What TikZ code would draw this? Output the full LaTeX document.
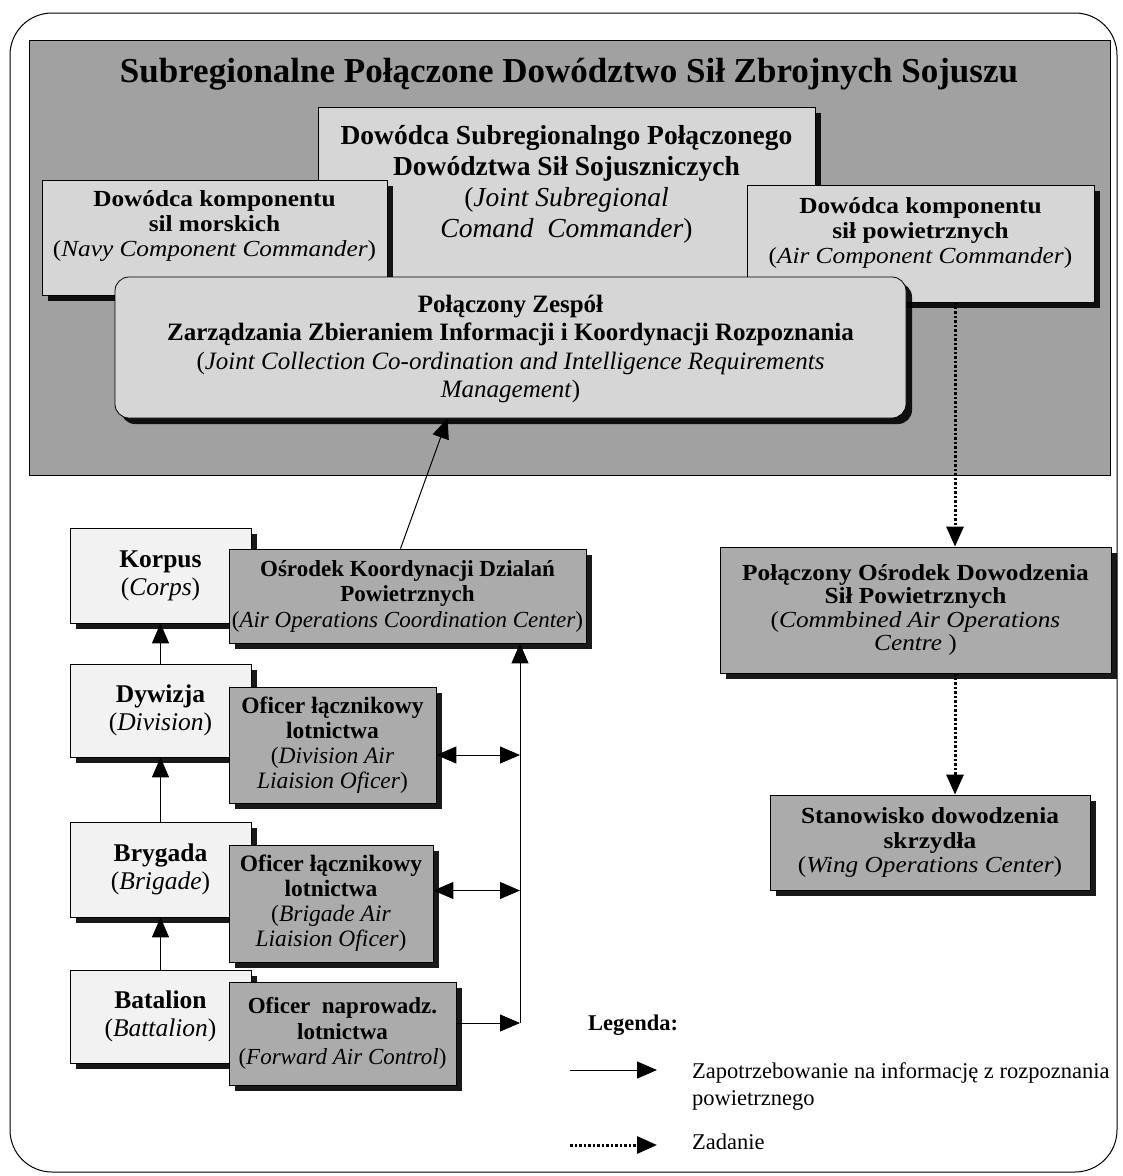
\documentclass[tikz,border=0pt]{standalone}
\usepackage{fontspec}
\setmainfont{Liberation Serif}
\newfontfamily\widefont{Liberation Serif}[FakeStretch=1.1]
\usetikzlibrary{arrows.meta,shadows,calc}
\newcommand\mybody{\fontsize{23}{25.5}\selectfont}
\newcommand\mywide{\widefont\fontsize{23}{25}\selectfont}
\newcommand\mypale{\fontsize{25.5}{28}\selectfont}
\newcommand\mylegend{\fontsize{22.5}{27}\selectfont}
\begin{document}
\begin{tikzpicture}[x=1pt,y=-1pt,
  shad/.style={drop shadow={shadow xshift=6pt,shadow yshift=-6pt,fill=black,opacity=0.9}},
  topbox/.style={draw=black,line width=0.8pt,fill=black!16,shad,inner sep=0pt},
  palebox/.style={draw=black,line width=0.6pt,fill=black!5,shad,align=center,inner sep=0pt,font=\mypale},
  darkbox/.style={draw=black,line width=0.8pt,fill=black!33,shad,align=center,inner sep=0pt,font=\mybody},
  txt/.style={align=center,inner sep=0pt,font=\mybody},
  arr/.style={line width=1pt,-{Triangle[length=20pt,width=17pt]}},
  darr/.style={line width=1pt,{Triangle[length=20pt,width=17pt]}-{Triangle[length=20pt,width=17pt]}},
  dotarr/.style={line width=3pt,dash pattern=on 2.5pt off 2pt,-{Triangle[length=20pt,width=17pt]}},
]
\useasboundingbox (0,0) rectangle (1123,1176);
\fill[white] (0,0) rectangle (1123,1176);
\draw[line width=1pt,rounded corners=42pt] (10,13) rectangle (1117,1172);

% command area
\node[draw=black,line width=1pt,fill=black!37,minimum width=1081pt,minimum height=435pt,inner sep=0pt] (cmd) at (569.5,257.5) {};
\node[inner sep=0pt,font=\fontsize{35}{40}\selectfont\bfseries] (title) at (569,74) {Subregionalne Połączone Dowództwo Sił Zbrojnych Sojuszu};

% central commander
\node[topbox,minimum width=497pt,minimum height=183pt] (jsc) at (566.5,198.5) {};
\node[txt,font=\fontsize{27.5}{31}\selectfont] (jsctxt) at (566.5,184) {\textbf{Dowódca Subregionalngo Połączonego}\\\textbf{Dowództwa Sił Sojuszniczych}\\(\textit{Joint Subregional}\\\textit{Comand\ \ Commander})};

% navy
\node[topbox,minimum width=345pt,minimum height=115pt] (navy) at (214.5,237.5) {};
\node[txt,font=\mywide] (navytxt) at (214.5,226) {\textbf{Dowódca komponentu}\\\textbf{sil morskich}\\(\textit{Navy Component Commander})};

% air
\node[topbox,minimum width=347pt,minimum height=117pt] (air) at (920.5,243.5) {};
\node[txt,font=\mywide] (airtxt) at (920.5,233) {\textbf{Dowódca komponentu}\\\textbf{sił powietrznych}\\(\textit{Air Component Commander})};

% joint collection
\node[topbox,rounded corners=14pt,minimum width=791pt,minimum height=141pt] (jcc) at (510.5,347.5) {};
\node[txt,font=\fontsize{25}{28.5}\selectfont] (jcctxt) at (510.5,349) {\textbf{Połączony Zespół}\\\textbf{Zarządzania Zbieraniem Informacji i Koordynacji Rozpoznania}\\(\textit{Joint Collection Co-ordination and Intelligence Requirements}\\\textit{Management})};

% left column
\node[palebox,minimum width=181pt,minimum height=95pt] (korp) at (160.5,575.5) {\textbf{Korpus}\\(\textit{Corps})};
\node[darkbox,minimum width=357pt,minimum height=94pt] (aocc) at (407.5,596) {\textbf{Ośrodek Koordynacji Dzialań}\\\textbf{Powietrznych}\\(\textit{Air Operations Coordination Center})};

\node[palebox,minimum width=181pt,minimum height=93pt] (dyw) at (160.5,710.5) {\textbf{Dywizja}\\(\textit{Division})};
\node[darkbox,font=\fontsize{23.5}{25}\selectfont,minimum width=207pt,minimum height=116pt] (offdiv) at (332.5,745) {\textbf{Oficer łącznikowy}\\\textbf{lotnictwa}\\(\textit{Division Air}\\\textit{Liaision Oficer})};

\node[palebox,minimum width=181pt,minimum height=95pt] (bryg) at (160.5,869.5) {\textbf{Brygada}\\(\textit{Brigade})};
\node[darkbox,font=\fontsize{23.5}{25}\selectfont,minimum width=204pt,minimum height=117pt] (offbrig) at (331,903.5) {\textbf{Oficer łącznikowy}\\\textbf{lotnictwa}\\(\textit{Brigade Air}\\\textit{Liaision Oficer})};

\node[palebox,minimum width=181pt,minimum height=93pt] (bat) at (160.5,1016.5) {\textbf{Batalion}\\(\textit{Battalion})};
\node[darkbox,minimum width=227pt,minimum height=103pt] (fac) at (342.5,1033.5) {\textbf{Oficer\ \ naprowadz.}\\\textbf{lotnictwa}\\(\textit{Forward Air Control})};

% right column
\node[darkbox,font=\widefont\fontsize{23}{23.5}\selectfont,minimum width=391pt,minimum height=126pt] (caoc) at (915.5,610) {\textbf{Połączony Ośrodek Dowodzenia}\\\textbf{Sił Powietrznych}\\(\textit{Commbined Air Operations}\\\textit{Centre} )};
\node[darkbox,font=\widefont\fontsize{23}{24.5}\selectfont,minimum width=320pt,minimum height=95pt] (wing) at (930,842.5) {\textbf{Stanowisko dowodzenia}\\\textbf{skrzydła}\\(\textit{Wing Operations Center})};

% connectors left
\draw[arr] (dyw.north) -- (korp.south);
\draw[arr] (bryg.north) -- (dyw.south);
\draw[arr] (bat.north) -- (bryg.south);
\draw[arr] ($(aocc.north)+(-7,0)$) -- ($(jcc.south)+(-63,0)$);

\coordinate (bus) at (520,1023);
\draw[arr] (fac.east |- bus) -- (bus);
\draw[arr] (bus) -- (bus |- aocc.south);
\coordinate (d1) at ($(offdiv.east)+(0,10)$);
\draw[darr] (d1) -- (d1 -| bus);
\coordinate (d2) at ($(offbrig.east)+(0,-13)$);
\draw[darr] (d2) -- (d2 -| bus);

% connectors right
\coordinate (da) at ($(air.south)+(34.5,0)$);
\draw[dotarr] (da) -- (da |- caoc.north);
\coordinate (db) at (caoc.south -| da);
\draw[dotarr] (db) -- (db |- wing.north);

% legend
\node[anchor=west,inner sep=0pt,font=\mylegend\bfseries] (leg) at (588,1025) {Legenda:};
\coordinate (l1a) at (570,1070);
\coordinate (l1b) at (657,1070);
\draw[arr] (l1a) -- (l1b);
\node[anchor=west,align=left,inner sep=0pt,font=\mylegend] (leg1) at (692,1086) {Zapotrzebowanie na informację z rozpoznania\\powietrznego};
\coordinate (l2a) at (570,1145);
\coordinate (l2b) at (657,1145);
\draw[dotarr] (l2a) -- (l2b);
\node[anchor=west,inner sep=0pt,font=\mylegend] (leg2) at (692,1142) {Zadanie};
\end{tikzpicture}
\end{document}
